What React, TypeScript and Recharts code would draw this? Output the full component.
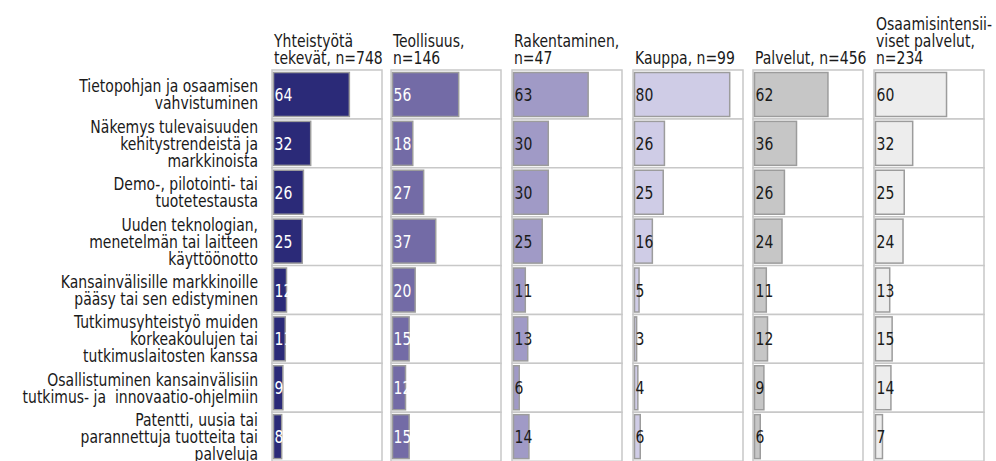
import React from 'react';
import { BarChart, Bar, XAxis, YAxis, LabelList } from 'recharts';

const categories: string[] = [
  'Tietopohjan ja osaamisen\nvahvistuminen',
  'Näkemys tulevaisuuden\nkehitystrendeistä ja\nmarkkinoista',
  'Demo-, pilotointi- tai\ntuotetestausta',
  'Uuden teknologian,\nmenetelmän tai laitteen\nkäyttöönotto',
  'Kansainvälisille markkinoille\npääsy tai sen edistyminen',
  'Tutkimusyhteistyö muiden\nkorkeakoulujen tai\ntutkimuslaitosten kanssa',
  'Osallistuminen kansainvälisiin\ntutkimus- ja  innovaatio-ohjelmiin',
  'Patentti, uusia tai\nparannettuja tuotteita tai\npalveluja',
];

const panelTitles: string[] = [
  'Yhteistyötä\ntekevät, n=748',
  'Teollisuus,\nn=146',
  'Rakentaminen,\nn=47',
  'Kauppa, n=99',
  'Palvelut, n=456',
  'Osaamisintensii-\nviset palvelut,\nn=234',
];

const yhteistyota = [64, 32, 26, 25, 12, 11, 9, 8];
const teollisuus = [56, 18, 27, 37, 20, 15, 12, 15];
const rakentaminen = [63, 30, 30, 25, 11, 13, 6, 14];
const kauppa = [80, 26, 25, 16, 5, 3, 4, 6];
const palvelut = [62, 36, 26, 24, 11, 12, 9, 6];
const osaamisintensiiviset = [60, 32, 25, 24, 13, 15, 14, 7];

const seriesValues = [yhteistyota, teollisuus, rakentaminen, kauppa, palvelut, osaamisintensiiviset];
const barColors = ['#2b2a78', '#736ba6', '#a09ac6', '#cfcce6', '#c6c6c6', '#ededed'];
const labelColors = ['#ffffff', '#ffffff', '#1a1a1a', '#1a1a1a', '#1a1a1a', '#1a1a1a'];

const FONT = "'DejaVu Sans Condensed', 'Liberation Sans Narrow', sans-serif";
const PLOT_LEFTS = [272, 391, 512, 633, 753, 874];
const PLOT_W = 110;
const TOP = 70;
const H = 461;
const FS = 18.5;
const SX = 0.84;
const LH = 17;

const CatTick = (props: any) => {
  const { x, y, payload } = props;
  const lines: string[] = String(payload.value).split('\n');
  const start = -((lines.length - 1) / 2) * LH;
  return (
    <g transform={`translate(${x},${y}) scale(${SX},1)`}>
      <text x={0} y={0} textAnchor="end" fontFamily={FONT} fontSize={FS} fill="#1a1a1a">
        {lines.map((l, i) => (
          <tspan key={i} x={0} dy={i === 0 ? start + 6.5 : LH} style={{ whiteSpace: 'pre' }}>
            {l}
          </tspan>
        ))}
      </text>
    </g>
  );
};

const BarShape = (props: any) => {
  const { x, y, width, height, fill } = props;
  const w = Math.max(width - 1.5, 0.5);
  return (
    <rect x={x + 1.5} y={y + 2.5} width={w} height={Math.max(height - 5, 0)} fill={fill} stroke="#9c9c9c" strokeWidth={1.5} />
  );
};

const makeValueLabel = (color: string) => (props: any) => {
  const { x, y, height, value } = props;
  const cy = y + height / 2;
  return (
    <g transform={`translate(${x + 2.5},${cy}) scale(${SX},1)`}>
      <text x={0} y={6.5} textAnchor="start" fontFamily={FONT} fontSize={FS} fill={color}>
        {value}
      </text>
    </g>
  );
};

function Panel({ idx }: { idx: number }) {
  const vals = seriesValues[idx];
  const data = categories.map((c, i) => ({ cat: c, v: vals[i] }));
  const first = idx === 0;
  const left = first ? 0 : PLOT_LEFTS[idx] - 1;
  const width = first ? PLOT_LEFTS[0] + PLOT_W + 1 : PLOT_W + 2;
  return (
    <div style={{ position: 'absolute', left, top: 0 }}>
      <BarChart
        width={width}
        height={H}
        data={data}
        layout="vertical"
        barCategoryGap={0}
        margin={{ top: TOP, right: 1, bottom: 0, left: first ? 0 : 1 }}
      >
        <XAxis type="number" domain={[0, 91]} hide />
        <YAxis
          type="category"
          dataKey="cat"
          hide={!first}
          width={PLOT_LEFTS[0]}
          axisLine={false}
          tickLine={false}
          tickSize={0}
          tickMargin={14}
          interval={0}
          tick={<CatTick />}
        />
        <Bar
          dataKey="v"
          fill={barColors[idx]}
          isAnimationActive={false}
          background={{ fill: '#ffffff', stroke: '#c8c8c8', strokeWidth: 1.5 }}
          shape={<BarShape />}
        >
          <LabelList dataKey="v" content={makeValueLabel(labelColors[idx])} />
        </Bar>
      </BarChart>
      <div
        style={{
          position: 'absolute',
          left: (first ? PLOT_LEFTS[0] : 1) + 2,
          top: 0,
          height: 66,
          width: 150,
          display: 'flex',
          flexDirection: 'column',
          justifyContent: 'flex-end',
          fontFamily: FONT,
          fontSize: FS,
          lineHeight: LH + 'px',
          color: '#1a1a1a',
          whiteSpace: 'pre',
          transform: `scaleX(${SX})`,
          transformOrigin: '0 0',
        }}
      >
        {panelTitles[idx].split('\n').map((l, i) => (
          <div key={i}>{l}</div>
        ))}
      </div>
    </div>
  );
}

export default function App() {
  return (
    <div style={{ position: 'absolute', left: 0, top: 0, width: 996, height: 461, background: '#fff', overflow: 'hidden' }}>
      {seriesValues.map((_, i) => (
        <Panel key={i} idx={i} />
      ))}
    </div>
  );
}
